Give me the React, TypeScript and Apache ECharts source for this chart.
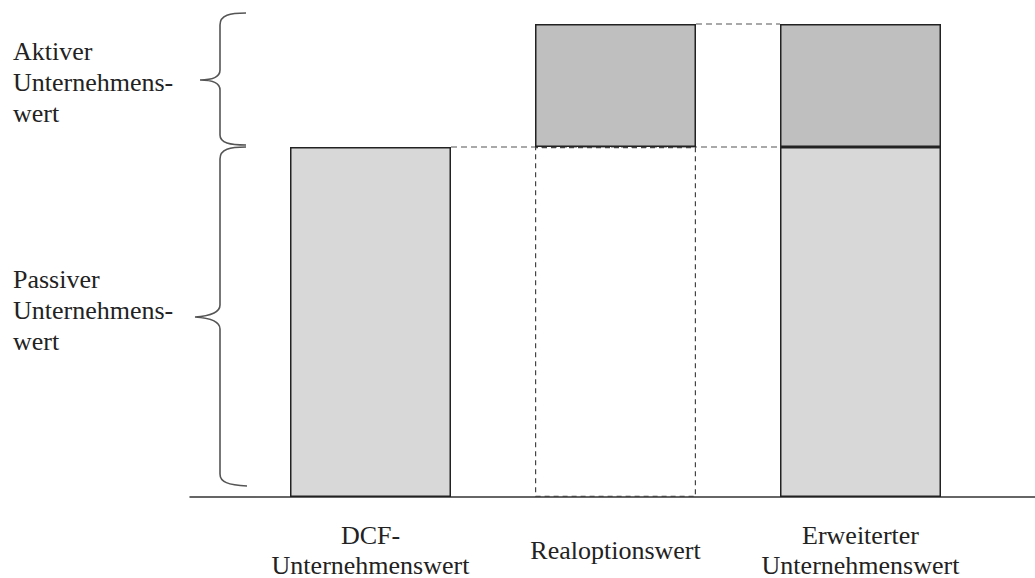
import React, { useEffect, useRef } from "react";
import * as echarts from "echarts";

const categories = ["DCF-\nUnternehmenswert", "Realoptionswert", "Erweiterter\nUnternehmenswert"];
const passiveValues = [74, 74, 74];
const activeValues: (number | null)[] = [null, 26, 26];
const valueMax = 100;
const leftLabels = ["Aktiver\nUnternehmens-\nwert", "Passiver\nUnternehmens-\nwert"];
// guide lines: [from category index, to category index, level]
const guideLines = [
  [0, 2, 74],
  [1, 2, 100],
];

const FONT = "Liberation Serif";
const BAR_W = 161;

echarts.graphic.registerShape(
  "braceTop",
  echarts.graphic.extendPath(
    "M246,13 C230,13 220,15 220,25 L220,70 C220,77 212,80 200,80 C212,80 220,83 220,90 L220,135 C220,143 230,145 246,145",
    {}
  )
);
echarts.graphic.registerShape(
  "braceBottom",
  echarts.graphic.extendPath(
    "M246,147 C230,147 220,149 220,159 L220,305 C220,312 210,316 195,317 C210,318 220,322 220,329 L220,474 C220,482 228,485 247,486",
    {}
  )
);

export default function App() {
  const ref = useRef<HTMLDivElement>(null);
  useEffect(() => {
    document.body.style.margin = "0";
    const chart = echarts.init(ref.current!, null, { renderer: "svg" });
    const passiveData = passiveValues.map((v, i) =>
      i === 1
        ? {
            value: v,
            itemStyle: {
              color: "rgba(0,0,0,0)",
              borderColor: "#444",
              borderWidth: 1.2,
              borderType: [5, 4],
            },
          }
        : v
    );
    chart.setOption({
      animation: false,
      backgroundColor: "#fff",
      textStyle: { fontFamily: FONT },
      grid: [
        { left: 248, right: 52, top: 24, bottom: 81, outerBoundsMode: "none", containLabel: false },
        { left: 190, right: 0, top: 24, bottom: 81, outerBoundsMode: "none", containLabel: false },
      ],
      xAxis: [
        {
          type: "category",
          gridIndex: 0,
          data: categories,
          axisLine: { show: false },
          axisTick: { show: false },
          axisLabel: {
            interval: 0,
            margin: 53,
            verticalAlign: "middle",
            fontFamily: FONT,
            fontSize: 26,
            lineHeight: 30,
            color: "#222",
          },
        },
        {
          type: "value",
          gridIndex: 1,
          min: 0,
          max: 1,
          axisLine: { show: true, onZero: false, lineStyle: { color: "#333", width: 1.5 } },
          axisTick: { show: false },
          axisLabel: { show: false },
          splitLine: { show: false },
        },
      ],
      yAxis: [
        { type: "value", gridIndex: 0, min: 0, max: valueMax, show: false },
        { type: "value", gridIndex: 1, min: 0, max: valueMax, show: false },
      ],
      series: [
        {
          type: "custom",
          xAxisIndex: 0,
          yAxisIndex: 0,
          z: 1,
          encode: { x: [0, 1], y: 2 },
          data: guideLines,
          renderItem: (params: any, api: any) => {
            const p1 = api.coord([api.value(0), api.value(2)]);
            const p2 = api.coord([api.value(1), api.value(2)]);
            return {
              type: "line",
              shape: { x1: p1[0] + BAR_W / 2, y1: p1[1], x2: p2[0] - BAR_W / 2, y2: p2[1] },
              style: { stroke: "#555", lineWidth: 1.2, lineDash: [6, 4], fill: null },
            };
          },
        },
        {
          type: "bar",
          name: "Passiver Unternehmenswert",
          xAxisIndex: 0,
          yAxisIndex: 0,
          stack: "total",
          barWidth: BAR_W,
          z: 2,
          data: passiveData,
          itemStyle: { color: "#d8d8d8", borderColor: "#222", borderWidth: 1.5 },
        },
        {
          type: "bar",
          name: "Aktiver Unternehmenswert",
          xAxisIndex: 0,
          yAxisIndex: 0,
          stack: "total",
          barWidth: BAR_W,
          z: 2,
          data: activeValues,
          itemStyle: { color: "#bfbfbf", borderColor: "#222", borderWidth: 1.5 },
        },
      ],
      graphic: [
        { type: "braceTop", x: 0, y: 0, style: { fill: "none", stroke: "#555", lineWidth: 1.6 } },
        { type: "braceBottom", x: 0, y: 0, style: { fill: "none", stroke: "#555", lineWidth: 1.6 } },
        {
          type: "text",
          x: 13,
          y: 36,
          style: {
            text: leftLabels[0],
            fontFamily: FONT,
            fontSize: 26,
            lineHeight: 31,
            fill: "#222",
            verticalAlign: "top",
          },
        },
        {
          type: "text",
          x: 13,
          y: 264,
          style: {
            text: leftLabels[1],
            fontFamily: FONT,
            fontSize: 26,
            lineHeight: 31,
            fill: "#222",
            verticalAlign: "top",
          },
        },
      ],
    });
    return () => chart.dispose();
  }, []);
  return <div ref={ref} style={{ width: 1035, height: 578 }} />;
}
